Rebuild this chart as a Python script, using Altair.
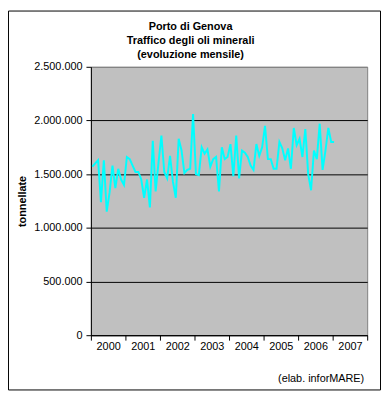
import altair as alt
import pandas as pd

# Monthly oil-products traffic, Port of Genoa (tonnes)
y2000 = [1570000, 1600000, 1630000, 1240000, 1630000, 1150000, 1330000, 1580000, 1370000, 1550000, 1450000, 1400000]
y2001 = [1660000, 1640000, 1580000, 1520000, 1520000, 1450000, 1280000, 1450000, 1190000, 1810000, 1340000, 1610000]
y2002 = [1860000, 1520000, 1460000, 1670000, 1430000, 1280000, 1830000, 1720000, 1510000, 1540000, 1550000, 2060000]
y2003 = [1500000, 1490000, 1750000, 1690000, 1730000, 1570000, 1640000, 1660000, 1340000, 1750000, 1640000, 1660000]
y2004 = [1780000, 1480000, 1860000, 1460000, 1720000, 1700000, 1660000, 1580000, 1540000, 1780000, 1670000, 1750000]
y2005 = [1950000, 1640000, 1640000, 1550000, 1550000, 1800000, 1740000, 1630000, 1740000, 1550000, 1930000, 1770000]
y2006 = [1830000, 1660000, 1920000, 1500000, 1350000, 1720000, 1640000, 1970000, 1540000, 1720000, 1930000, 1800000]
y2007 = [1800000]

first_year = 2000
n_years = 8
y_ticks = [0, 500000, 1000000, 1500000, 2000000, 2500000]
title_lines = ["Porto di Genova", "Traffico degli oli minerali", "(evoluzione mensile)"]
y_title = "tonnellate"
footer = "(elab. inforMARE)"

values = y2000 + y2001 + y2002 + y2003 + y2004 + y2005 + y2006 + y2007
df = pd.DataFrame({"m": [i + 0.5 for i in range(len(values))], "t": values})

FONT = "Liberation Sans"
W, H = 280, 272

x_axis = alt.Axis(
    values=list(range(0, 12 * n_years + 1, 12)),
    labelExpr=f"datum.value < {12 * n_years} ? '' + ({first_year} + datum.value / 12) : ''",
    labelOffset=17.5,
    labelFlush=False,
    labelOverlap=False,
    labelBound=False,
    grid=False,
    title=None,
    domainColor="black",
    tickColor="black",
    tickSize=5,
    labelPadding=1,
    labelFontSize=11,
    labelFont=FONT,
    labelColor="black",
)

y_axis = alt.Axis(
    values=y_ticks,
    labelExpr="replace(format(datum.value, ','), /,/g, '.')",
    grid=True,
    gridColor={"condition": {"test": "datum.value >= 2500000", "value": "#808080"}, "value": "black"},
    gridWidth=1,
    domainColor="black",
    tickColor="black",
    tickSize=5,
    labelPadding=4,
    labelFontSize=11,
    labelFont=FONT,
    labelColor="black",
    title=y_title,
    titleFont=FONT,
    titleFontSize=11,
    titleFontWeight="bold",
    titleColor="black",
    titlePadding=6,
)

line = alt.Chart(df).mark_line(color="#00FFFF", strokeWidth=2).encode(
    x=alt.X("m:Q", scale=alt.Scale(domain=[0, 12 * n_years], nice=False, zero=False), axis=x_axis),
    y=alt.Y("t:Q", scale=alt.Scale(domain=[0, 2500000], nice=False), axis=y_axis),
)

one = pd.DataFrame({"a": [0]})

title = alt.Chart(one).mark_text(
    text=title_lines, font=FONT, fontSize=11, fontWeight="bold", color="black",
    align="center", baseline="alphabetic", lineHeight=14,
).encode(x=alt.value(101), y=alt.value(-37))

foot = alt.Chart(one).mark_text(
    text=footer, font=FONT, fontSize=11, color="black", align="right", baseline="middle",
).encode(x=alt.value(277), y=alt.value(316))

frame = alt.Chart(one).mark_rect(filled=False, stroke="black", strokeWidth=1).encode(
    x=alt.value(-83.5), x2=alt.value(W + 13.5), y=alt.value(-56.5), y2=alt.value(H + 55.5)
)

chart = alt.layer(line, title, foot, frame).properties(
    width=W, height=H,
    autosize=alt.AutoSizeParams(type="none"),
    padding={"left": 84, "top": 57, "right": 14, "bottom": 56},
    background="white",
).configure_view(fill="#C0C0C0", stroke="#808080", strokeWidth=1)

chart.save("out.html", embed_options={"renderer": "svg", "actions": False})
